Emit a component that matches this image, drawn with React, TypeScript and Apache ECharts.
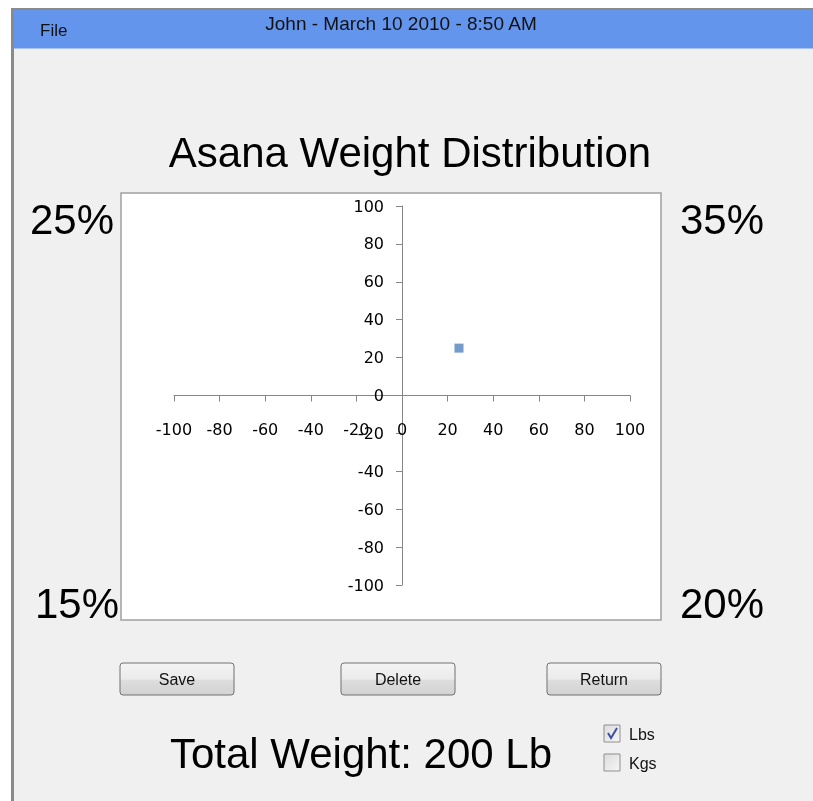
import React, { useEffect, useRef } from "react";
import * as echarts from "echarts";

const windowTitle = "John - March 10 2010 - 8:50 AM";
const chartTitle = "Asana Weight Distribution";
const cornerLabels = ["25%", "35%", "15%", "20%"];
const buttonLabels = ["Save", "Delete", "Return"];
const totalWeightText = "Total Weight: 200 Lb";
const unitOptions = ["Lbs", "Kgs"];
const unitChecked = [true, false];
const pointX = [25];
const pointY = [25];
const axisMin = -100;
const axisMax = 100;
const axisStep = 20;

const UI_FONT = "'Liberation Sans', Arial, sans-serif";
const AXIS_FONT = "'DejaVu Sans', Verdana, sans-serif";

export default function App() {
  const ref = useRef<HTMLDivElement>(null);

  useEffect(() => {
    if (!ref.current) return;
    const chart = echarts.init(ref.current, undefined, { renderer: "svg" });

    const cornerPos = [
      { x: 72, y: 219 },
      { x: 722, y: 219 },
      { x: 77, y: 603 },
      { x: 722, y: 603 },
    ];
    const buttonPos = [120, 341, 547];

    const graphic: any[] = [
      { type: "rect", z: -20, silent: true, shape: { x: 0, y: 0, width: 813, height: 801 }, style: { fill: "#ffffff" } },
      { type: "rect", z: -19, silent: true, shape: { x: 11, y: 8, width: 802, height: 793 }, style: { fill: "#f0f0f0" } },
      { type: "rect", z: -18, silent: true, shape: { x: 11, y: 8, width: 3, height: 793 }, style: { fill: "#8a8a8a" } },
      { type: "rect", z: -18, silent: true, shape: { x: 11, y: 8, width: 802, height: 2 }, style: { fill: "#8a8a8a" } },
      { type: "rect", z: -17, silent: true, shape: { x: 14, y: 10, width: 799, height: 38 }, style: { fill: "#6495ed" } },
      { type: "rect", z: -17, silent: true, shape: { x: 14, y: 48, width: 799, height: 1 }, style: { fill: "#a9c2f2" } },
      { type: "text", z: 5, silent: true, x: 40, y: 30, style: { text: "File", fill: "#111", font: `17px ${UI_FONT}`, align: "left", verticalAlign: "middle" } },
      { type: "text", z: 5, silent: true, x: 401, y: 23, style: { text: windowTitle, fill: "#111", font: `19px ${UI_FONT}`, align: "center", verticalAlign: "middle" } },
      { type: "text", z: 5, silent: true, x: 410, y: 152, style: { text: chartTitle, fill: "#000", font: `42px ${UI_FONT}`, align: "center", verticalAlign: "middle" } },
      { type: "rect", z: -15, silent: true, shape: { x: 121, y: 193, width: 540, height: 427 }, style: { fill: "#ffffff", stroke: "#a0a0a0", lineWidth: 1.5 } },
      { type: "text", z: 5, silent: true, x: 361, y: 753, style: { text: totalWeightText, fill: "#000", font: `42px ${UI_FONT}`, align: "center", verticalAlign: "middle" } },
    ];

    cornerLabels.forEach((t, i) => {
      graphic.push({
        type: "text", z: 5, silent: true, x: cornerPos[i].x, y: cornerPos[i].y,
        style: { text: t, fill: "#000", font: `42px ${UI_FONT}`, align: "center", verticalAlign: "middle" },
      });
    });

    buttonLabels.forEach((t, i) => {
      const x = buttonPos[i];
      graphic.push({
        type: "rect", z: 2, silent: true,
        shape: { x, y: 663, width: 114, height: 32, r: 3 },
        style: {
          fill: new echarts.graphic.LinearGradient(0, 0, 0, 1, [
            { offset: 0, color: "#f4f4f4" },
            { offset: 0.5, color: "#ebebeb" },
            { offset: 0.55, color: "#dddddd" },
            { offset: 1, color: "#d2d2d2" },
          ]),
          stroke: "#707070",
          lineWidth: 1,
        },
      });
      graphic.push({
        type: "text", z: 5, silent: true, x: x + 57, y: 679,
        style: { text: t, fill: "#111", font: `16px ${UI_FONT}`, align: "center", verticalAlign: "middle" },
      });
    });

    unitOptions.forEach((t, i) => {
      const y = 725 + i * 29;
      graphic.push({
        type: "rect", z: 2, silent: true,
        shape: { x: 604, y, width: 16, height: 17 },
        style: {
          fill: new echarts.graphic.LinearGradient(0, 0, 1, 1, [
            { offset: 0, color: "#dcdcdc" },
            { offset: 1, color: "#f6f6f6" },
          ]),
          stroke: "#8f8f8f",
          lineWidth: 1,
        },
      });
      if (unitChecked[i]) {
        graphic.push({
          type: "polyline", z: 3, silent: true,
          shape: { points: [[608, y + 8], [611, y + 13], [617, y + 3]] },
          style: { stroke: "#3c4fa8", lineWidth: 2, fill: "none" },
        });
      }
      graphic.push({
        type: "text", z: 5, silent: true, x: 629, y: y + 9,
        style: { text: t, fill: "#111", font: `16px ${UI_FONT}`, align: "left", verticalAlign: "middle" },
      });
    });

    const gridLeft = 174;
    const gridTop = 206;
    const gridWidth = 456;
    const gridHeight = 379;

    const axisCommon = {
      type: "value" as const,
      min: axisMin,
      max: axisMax,
      interval: axisStep,
      z: 10,
      splitLine: { show: false },
      axisLine: { show: true, onZero: false, lineStyle: { color: "#868686", width: 1 } },
      axisTick: { show: true, inside: false, length: 6, lineStyle: { color: "#868686" } },
    };

    chart.setOption({
      animation: false,
      backgroundColor: "transparent",
      graphic,
      grid: { left: gridLeft, top: gridTop, width: gridWidth, height: gridHeight, containLabel: false },
      xAxis: {
        ...axisCommon,
        position: "bottom",
        offset: -gridHeight / 2,
        axisLabel: { color: "#000", fontFamily: AXIS_FONT, fontSize: 16, margin: 26 },
      },
      yAxis: {
        ...axisCommon,
        position: "left",
        offset: -gridWidth / 2,
        axisLabel: { color: "#000", fontFamily: AXIS_FONT, fontSize: 16, margin: 18 },
      },
      series: [
        {
          type: "scatter",
          z: 20,
          symbol: "rect",
          symbolSize: 9,
          itemStyle: { color: "#4f81bd" },
          data: pointX.map((x, i) => [x, pointY[i]]),
        },
      ],
    });

    return () => chart.dispose();
  }, []);

  return (
    <div
      ref={ref}
      style={{ position: "fixed", left: 0, top: 0, width: 813, height: 801 }}
    />
  );
}
